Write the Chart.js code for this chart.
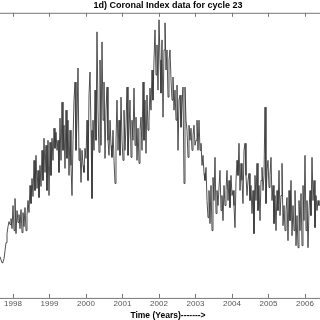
<!DOCTYPE html>
<html>
<head>
<meta charset="utf-8">
<script src="https://cdn.jsdelivr.net/npm/chart.js@4.4.1/dist/chart.umd.min.js"></script>
<style>
  html, body { margin: 0; padding: 0; background: #fff; overflow: hidden; width: 320px; height: 320px; }
  canvas { display: block; }
</style>
</head>
<body>
<canvas id="chart" width="336" height="320"></canvas>
<script>
// Coronal index (arbitrary units), one reading per ~10 days, starting early 1997.64
const startYear = 1997.644
const stepYears = 1 / 36.5
const coronalIndex = [
  41, 38, 35, 36, 39, 47, 55, 64, 71, 76,
  73, 79, 69, 92, 67, 99, 64, 87, 75, 83,
  69, 88, 65, 85, 71, 90, 67, 82, 97, 85,
  112, 94, 119, 101, 137, 107, 142, 109, 127, 100,
  132, 111, 147, 117, 159, 125, 152, 107, 157, 102,
  155, 122, 159, 137, 169, 149, 165, 147, 157, 125,
  179, 137, 195, 147, 172, 129, 187, 139, 177, 122,
  167, 132, 102, 157, 197, 215, 147, 177, 229, 137,
  149, 115, 147, 132, 125, 149, 139, 177, 117, 202,
  225, 167, 99, 177, 147, 207, 157, 265, 187, 145,
  237, 152, 255, 177, 215, 139, 187, 210, 157, 142,
  177, 152, 140, 167, 137, 114, 157, 197, 147, 177,
  142, 200, 157, 137, 187, 147, 172, 210, 142, 167,
  197, 140, 177, 157, 209, 152, 180, 137, 169, 134,
  167, 180, 147, 215, 157, 197, 144, 202, 167, 177,
  209, 187, 227, 197, 237, 267, 222, 252, 207, 277,
  237, 204, 257, 180, 247, 274, 227, 247, 200, 237,
  247, 217, 197, 220, 187, 207, 177, 212, 147, 197,
  202, 170, 192, 210, 114, 210, 177, 167, 140, 172,
  157, 169, 147, 162, 172, 152, 157, 177, 147, 177,
  147, 154, 132, 142, 124, 117, 130, 97, 80, 107,
  74, 112, 67, 120, 97, 140, 84, 107, 92, 110,
  127, 87, 102, 77, 112, 92, 107, 127, 97, 117,
  90, 122, 102, 107, 92, 70, 117, 137, 122, 154,
  107, 134, 117, 94, 147, 154, 122, 102, 117, 124,
  97, 112, 84, 107, 64, 122, 97, 134, 87, 112,
  77, 117, 130, 107, 122, 190, 94, 127, 137, 110,
  122, 140, 97, 112, 74, 102, 67, 107, 87, 127,
  82, 102, 134, 72, 92, 67, 87, 100, 57, 107,
  77, 117, 62, 92, 67, 107, 52, 82, 50, 97,
  67, 104, 52, 112, 77, 142, 67, 97, 50, 87,
  107, 82, 140, 97, 117, 70, 102, 87, 97, 92
]
const tickYears = [1998, 1999, 2000, 2001, 2002, 2003, 2004, 2005, 2006]

const points = coronalIndex.map((v, i) => ({ x: startYear + i * stepYears, y: v }))

// box around the plot with inward tick marks (matlab style)
const boxTicks = {
  id: 'boxTicks',
  afterDraw(chart) {
    const { ctx, chartArea: a, scales: { x } } = chart
    ctx.save()
    ctx.strokeStyle = '#777'
    ctx.lineWidth = 1
    ctx.beginPath()
    ctx.moveTo(a.left, a.top + 0.5)
    ctx.lineTo(a.right, a.top + 0.5)
    ctx.moveTo(a.left, a.bottom + 0.5)
    ctx.lineTo(a.right, a.bottom + 0.5)
    tickYears.forEach(yr => {
      const px = Math.round(x.getPixelForValue(yr)) + 0.5
      ctx.moveTo(px, a.top)
      ctx.lineTo(px, a.top + 4)
      ctx.moveTo(px, a.bottom)
      ctx.lineTo(px, a.bottom - 4)
    })
    ctx.stroke()
    ctx.restore()
  }
}

new Chart(document.getElementById('chart'), {
  type: 'line',
  data: {
    datasets: [{
      data: points,
      borderColor: '#333',
      borderWidth: 0.85,
      pointRadius: 0,
      tension: 0
    }]
  },
  options: {
    responsive: false,
    animation: false,
    layout: { padding: 0 },
    plugins: {
      legend: { display: false },
      tooltip: { enabled: false },
      title: {
        display: true,
        text: '1d) Coronal Index data for cycle 23',
        color: '#000',
        font: { family: 'Liberation Sans', size: 9, weight: 'bold' },
        padding: { top: 0, bottom: 2 }
      }
    },
    scales: {
      x: {
        type: 'linear',
        min: startYear,
        max: startYear + 336 * stepYears,
        grid: { display: false, drawTicks: false },
        border: { display: false },
        afterBuildTicks(scale) {
          scale.ticks = tickYears.map(v => ({ value: v }))
        },
        ticks: {
          color: '#555',
          padding: 1,
          maxRotation: 0,
          autoSkip: false,
          font: { family: "'Liberation Sans Narrow', 'Liberation Sans'", size: 8, lineHeight: 1.2 },
          callback: v => String(v)
        },
        title: {
          display: true,
          text: 'Time (Years)------->',
          color: '#000',
          font: { family: 'Liberation Sans', size: 8.5, weight: 'bold', lineHeight: 1 },
          padding: { top: 2, bottom: 0 }
        }
      },
      y: {
        display: false,
        min: 0,
        max: 284
      }
    }
  },
  plugins: [boxTicks]
})
</script>
</body>
</html>
